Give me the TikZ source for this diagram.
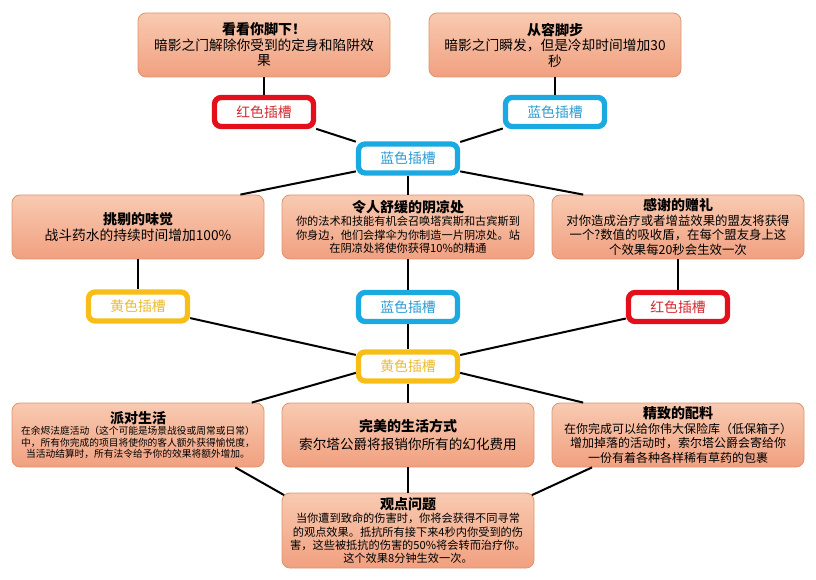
\documentclass[tikz,border=0pt]{standalone}
\usepackage{fontspec}
\setmainfont{Noto Sans CJK SC}
\usetikzlibrary{calc}
\definecolor{boxtop}{HTML}{F8CAB1}
\definecolor{boxbot}{HTML}{F1A080}
\definecolor{boxline}{HTML}{DB9570}
\definecolor{slotred}{HTML}{E3101B}
\definecolor{slotblue}{HTML}{1BA9E1}
\definecolor{slotyellow}{HTML}{F6BE17}
\definecolor{txtred}{HTML}{D32A30}
\definecolor{txtblue}{HTML}{2B9CD3}
\definecolor{txtyellow}{HTML}{EDBA2A}
\newcommand\cardtitle[1]{{\bfseries\fontsize{10.5}{13}\selectfont #1}}
\tikzset{
  card/.style={draw=boxline, line width=0.6pt, rounded corners=6pt,
    top color=boxtop, bottom color=boxbot,
    minimum width=252*0.75pt, minimum height=64*0.75pt,
    inner sep=1pt, align=center, text=black},
  slot/.style={fill=white, line width=4pt, rounded corners=5pt,
    minimum width=99*0.75pt, minimum height=29*0.75pt, inner sep=0pt,
    font=\fontsize{10.4}{12}\selectfont},
  redslot/.style={slot, draw=slotred, text=txtred},
  blueslot/.style={slot, draw=slotblue, text=txtblue},
  yellowslot/.style={slot, draw=slotyellow, text=txtyellow},
  link/.style={line width=1.5pt, black}
}
\begin{document}
\begin{tikzpicture}[x=0.75pt,y=-0.75pt]
\useasboundingbox (0,0) rectangle (816,580);
% top row
\node[card, font=\fontsize{10.3}{11.6}\selectfont] (A) at (264,45)
  {\cardtitle{看看你脚下！}\\暗影之门解除你受到的定身和陷阱效\\果};
\node[card, font=\fontsize{10.3}{11.6}\selectfont] (B) at (555,45)
  {\cardtitle{从容脚步}\\暗影之门瞬发，但是冷却时间增加30\\秒};
\node[redslot] (r1) at (264,112) {红色插槽};
\node[blueslot] (b1) at (555,112) {蓝色插槽};
\node[blueslot] (cb) at (408,158.5) {蓝色插槽};
% middle row
\node[card, font=\fontsize{10.3}{12.5}\selectfont] (t1) at (138,227)
  {\cardtitle{挑剔的味觉}\\战斗药水的持续时间增加100\%};
\node[card, font=\fontsize{8.4}{10}\selectfont] (t2) at (408,227)
  {\cardtitle{令人舒缓的阴凉处}\\你的法术和技能有机会召唤塔宾斯和古宾斯到\\你身边，他们会撑伞为你制造一片阴凉处。站\\在阴凉处将使你获得10\%的精通};
\node[card, font=\fontsize{9.3}{11}\selectfont] (t3) at (678,227)
  {\cardtitle{感谢的赠礼}\\对你造成治疗或者增益效果的盟友将获得\\一个?数值的吸收盾，在每个盟友身上这\\个效果每20秒会生效一次};
\node[yellowslot] (y1) at (138,306.5) {黄色插槽};
\node[blueslot] (b2) at (408,307) {蓝色插槽};
\node[redslot] (r2) at (678,307) {红色插槽};
\node[yellowslot] (yc) at (408,366.5) {黄色插槽};
% lower row
\node[card, font=\fontsize{7.3}{8.7}\selectfont] (u1) at (138,435)
  {\cardtitle{派对生活}\\在余烬法庭活动（这个可能是场景战役或周常或日常）\\中，所有你完成的项目将使你的客人额外获得愉悦度，\\当活动结算时，所有法令给予你的效果将额外增加。};
\node[card, font=\fontsize{10.2}{13}\selectfont] (u2) at (408,435)
  {\cardtitle{完美的生活方式}\\索尔塔公爵将报销你所有的幻化费用};
\node[card, font=\fontsize{9}{11}\selectfont] (u3) at (678,435)
  {\cardtitle{精致的配料}\\在你完成可以给你伟大保险库（低保箱子）\\增加掉落的活动时，索尔塔公爵会寄给你\\一份有着各种各样稀有草药的包裹};
\node[card, minimum height=75*0.75pt, font=\fontsize{8.4}{10.1}\selectfont] (gd) at (408,530.5)
  {\cardtitle{观点问题}\\当你遭到致命的伤害时，你将会获得不同寻常\\的观点效果。抵抗所有接下来4秒内你受到的伤\\害，这些被抵抗的伤害的50\%将会转而治疗你。\\这个效果8分钟生效一次。};
% connectors
\draw[link] (A) -- (r1);
\draw[link] (B) -- (b1);
\draw[link] (r1) -- (cb);
\draw[link] (b1) -- (cb);
\draw[link] ($(cb.west)!0.75!(cb.south west)$) -- ($(t1.north)!0.81!(t1.north east)$);
\draw[link] ($(cb.east)!0.75!(cb.south east)$) -- ($(t3.north)!0.75!(t3.north west)$);
\draw[link] (cb) -- (t2);
\draw[link] (t1) -- (y1);
\draw[link] (t2) -- (b2);
\draw[link] (t3) -- (r2);
\draw[link] (b2) -- (yc);
\draw[link] (y1) -- (yc);
\draw[link] (r2) -- (yc);
\draw[link] ($(yc.west)!0.37!(yc.south west)$) -- ($(u1.north)!0.9!(u1.north east)$);
\draw[link] ($(yc.east)!0.37!(yc.south east)$) -- ($(u3.north)!0.75!(u3.north west)$);
\draw[link] (yc) -- (u2);
\draw[link] (u2) -- (gd);
\draw[link] ($(u1.south)!0.77!(u1.south east)$) -- ($(gd.north west)+(2.5,2.5)$);
\draw[link] ($(u3.south)!0.68!(u3.south west)$) -- ($(gd.north east)+(-2.5,2.5)$);
\end{tikzpicture}
\end{document}
